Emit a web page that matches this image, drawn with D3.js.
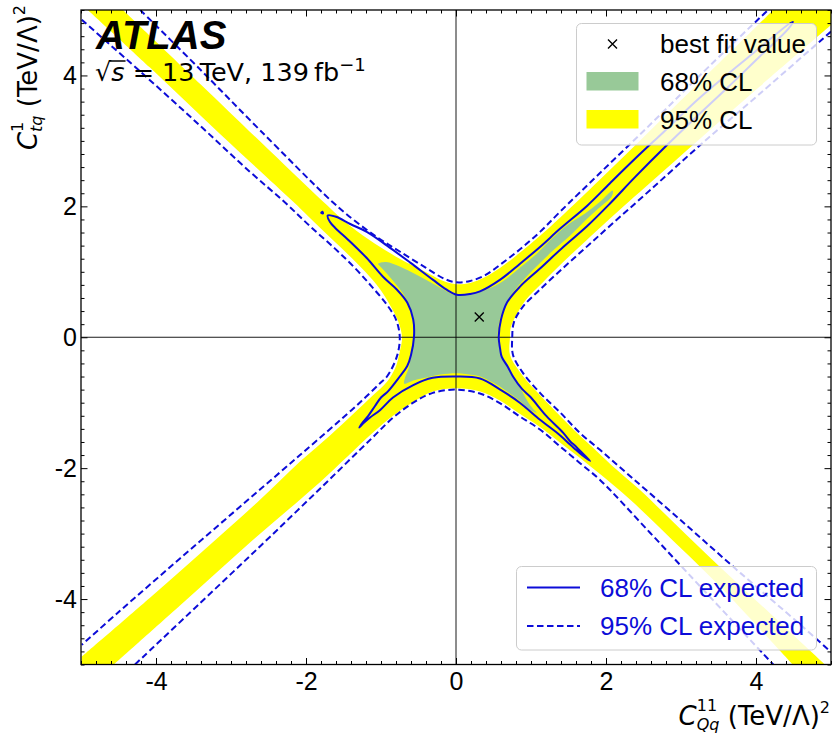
<!DOCTYPE html>
<html>
<head>
<meta charset="utf-8">
<script src="https://cdn.jsdelivr.net/npm/d3@7/dist/d3.min.js"></script>
<style>
  body { margin: 0; background: #ffffff; }
  svg { display: block; }
</style>
</head>
<body>
<svg id="chart" width="832" height="734"></svg>
<script>
// ---- axis settings ----
const xDomain = [-5, 5];
const yDomain = [-5, 5];
const majorTicks = [-4, -2, 0, 2, 4];
const tickLabels = ["-4", "-2", "0", "2", "4"];

// ---- best-fit point (C_Qq^11, C_tq^1) ----
const bestFit = [0.31, 0.31];

// ---- observed 95% CL region: the four edges of the cross ----
const obs95Top = [[-4.44,5.00],[-3.41,3.87],[-2.61,2.99],[-1.77,2.07],[-1.41,1.70],[-1.08,1.43],[-0.75,1.20],[-0.41,1.00],[-0.15,0.85],[0,0.81],[0.19,0.83],[0.39,0.92],[0.59,1.06],[0.85,1.29],[1.12,1.55],[1.39,1.83],[1.92,2.41],[2.59,3.16],[3.25,3.90],[4.23,5.00]];
const obs95Right = [[5.00,4.77],[4.05,3.83],[3.25,3.03],[2.59,2.36],[2.05,1.81],[1.73,1.47],[1.43,1.15],[1.15,0.83],[0.93,0.57],[0.80,0.33],[0.73,0.15],[0.72,0],[0.72,-0.27],[0.84,-0.51],[1.05,-0.80],[1.31,-1.11],[1.56,-1.40],[1.81,-1.67],[2.07,-1.95],[2.45,-2.33],[2.92,-2.85],[3.52,-3.51],[4.19,-4.22],[4.92,-5.00]];
const obs95Bottom = [[-4.56,-5.00],[-3.68,-4.10],[-2.75,-3.14],[-1.81,-2.21],[-1.12,-1.47],[-0.84,-1.20],[-0.57,-0.99],[-0.31,-0.83],[0,-0.78],[0.32,-0.83],[0.59,-0.97],[0.85,-1.17],[1.12,-1.37],[1.39,-1.61],[1.65,-1.84],[1.92,-2.09],[2.32,-2.48],[2.85,-3.06],[3.52,-3.81],[4.49,-5.00]];
const obs95Left = [[-4.99,-4.88],[-4.08,-3.98],[-3.25,-3.14],[-2.61,-2.48],[-2.08,-1.90],[-1.68,-1.50],[-1.35,-1.15],[-1.11,-0.89],[-0.92,-0.68],[-0.81,-0.47],[-0.75,-0.22],[-0.72,0],[-0.77,0.24],[-0.87,0.47],[-1.01,0.73],[-1.21,1.00],[-1.48,1.31],[-1.81,1.67],[-2.17,2.07],[-3.15,3.11],[-4.08,4.12],[-4.91,5.00]];

// ---- observed 68% CL region (closed) ----
const obs68 = [[-1.04,1.12],[-0.93,1.15],[-0.75,1.08],[-0.52,0.95],[-0.31,0.82],[-0.12,0.70],[0,0.64],[0.19,0.66],[0.41,0.73],[0.63,0.86],[0.85,1.06],[1.08,1.28],[1.29,1.52],[1.49,1.72],[1.72,1.89],[1.92,2.07],[2.09,2.24],[2.08,2.16],[1.89,1.96],[1.72,1.78],[1.52,1.55],[1.29,1.32],[1.08,1.09],[0.88,0.85],[0.72,0.62],[0.61,0.37],[0.56,0.11],[0.56,-0.04],[0.61,-0.27],[0.68,-0.40],[0.77,-0.60],[0.87,-0.80],[0.96,-0.99],[1.04,-1.11],[1.08,-1.15],[0.99,-1.11],[0.85,-0.97],[0.68,-0.83],[0.55,-0.73],[0.32,-0.60],[0.13,-0.56],[0,-0.55],[-0.21,-0.57],[-0.41,-0.62],[-0.57,-0.66],[-0.69,-0.71],[-0.68,-0.62],[-0.63,-0.47],[-0.60,-0.28],[-0.56,-0.04],[-0.57,0.19],[-0.60,0.42],[-0.68,0.62],[-0.81,0.82],[-0.92,0.97],[-1.01,1.08]];

// ---- expected 68% CL contour (closed, solid) ----
const exp68 = [[-1.71,1.86],[-1.60,1.84],[-1.41,1.73],[-1.19,1.61],[-0.92,1.40],[-0.61,1.14],[-0.31,0.88],[-0.13,0.73],[0.01,0.65],[0.19,0.66],[0.32,0.70],[0.59,0.88],[0.85,1.12],[1.12,1.38],[1.39,1.66],[1.75,2.01],[2.05,2.35],[2.39,2.73],[2.79,3.16],[3.25,3.66],[3.92,4.30],[4.49,4.82],[4.43,4.71],[4.05,4.29],[3.59,3.78],[3.19,3.35],[2.79,2.91],[2.39,2.45],[2.05,2.04],[1.75,1.70],[1.43,1.38],[1.12,1.05],[0.85,0.77],[0.68,0.53],[0.60,0.27],[0.57,0.01],[0.59,-0.19],[0.61,-0.30],[0.69,-0.45],[0.76,-0.60],[0.88,-0.79],[0.99,-0.91],[1.21,-1.21],[1.43,-1.46],[1.53,-1.60],[1.57,-1.64],[1.65,-1.73],[1.79,-1.89],[1.68,-1.80],[1.60,-1.72],[1.52,-1.64],[1.39,-1.50],[1.12,-1.26],[0.85,-1.00],[0.59,-0.80],[0.32,-0.63],[0.01,-0.60],[-0.31,-0.62],[-0.57,-0.73],[-0.84,-0.92],[-1.01,-1.11],[-1.15,-1.23],[-1.24,-1.32],[-1.29,-1.38],[-1.25,-1.31],[-1.17,-1.20],[-1.08,-1.05],[-1.00,-0.92],[-0.91,-0.83],[-0.75,-0.60],[-0.65,-0.44],[-0.60,-0.27],[-0.56,0.01],[-0.57,0.27],[-0.65,0.53],[-0.79,0.73],[-0.97,0.92],[-1.19,1.21],[-1.41,1.46],[-1.61,1.67],[-1.68,1.76]];
const exp68Island = [[-1.80,1.90],[-1.78,1.92],[-1.77,1.89]];

// ---- expected 95% CL contour: four dashed branches ----
const exp95Top = [[-4.21,5.00],[-3.41,4.09],[-2.61,3.16],[-1.65,2.07],[-1.35,1.78],[-1.04,1.52],[-0.75,1.31],[-0.40,1.06],[-0.15,0.89],[0,0.84],[0.19,0.86],[0.39,0.95],[0.59,1.11],[0.85,1.34],[1.12,1.61],[1.39,1.92],[1.92,2.51],[2.59,3.25],[3.25,4.00],[4.16,5.00]];
const exp95Right = [[5.00,4.67],[4.05,3.72],[3.25,2.93],[2.59,2.25],[2.05,1.70],[1.73,1.37],[1.43,1.06],[1.12,0.73],[0.88,0.45],[0.77,0.22],[0.75,0],[0.76,-0.27],[0.89,-0.54],[1.12,-0.85],[1.39,-1.15],[1.65,-1.46],[1.92,-1.72],[2.19,-1.99],[2.99,-2.79],[3.79,-3.60],[4.59,-4.39],[5.00,-4.81]];
const exp95Bottom = [[-4.28,-5.00],[-3.41,-4.06],[-2.59,-3.17],[-1.81,-2.31],[-1.12,-1.54],[-0.84,-1.23],[-0.57,-1.00],[-0.31,-0.85],[0,-0.80],[0.32,-0.86],[0.59,-1.01],[0.85,-1.21],[1.12,-1.41],[1.39,-1.67],[1.65,-1.92],[1.92,-2.18],[2.59,-2.99],[3.25,-3.80],[4.23,-5.00]];
const exp95Left = [[-4.99,4.85],[-4.21,4.06],[-3.41,3.23],[-2.75,2.53],[-2.29,2.07],[-1.95,1.70],[-1.61,1.35],[-1.35,1.06],[-1.12,0.77],[-0.93,0.51],[-0.80,0.27],[-0.75,0],[-0.79,-0.30],[-0.92,-0.60],[-1.01,-0.70],[-1.20,-0.91],[-1.39,-1.11],[-2.08,-1.80],[-2.88,-2.59],[-3.68,-3.38],[-4.48,-4.18],[-4.99,-4.70]];

// ---- styling ----
const YELLOW = "#ffff00";
const GREEN = "#98c998";
const BLUE = "#0c0cd8";
const SANS = "'Liberation Sans', Arial, Helvetica, sans-serif";
const MATH = "'DejaVu Sans', sans-serif";

const plot = { left: 81, right: 831, top: 10, bottom: 664.5 };

const svg = d3.select("#chart");
const x = d3.scaleLinear().domain(xDomain).range([plot.left, plot.right]);
const y = d3.scaleLinear().domain(yDomain).range([plot.bottom, plot.top]);

const smooth = d3.line().x(d => x(d[0])).y(d => y(d[1])).curve(d3.curveCatmullRom.alpha(0.5));
const smoothClosed = d3.line().x(d => x(d[0])).y(d => y(d[1])).curve(d3.curveCatmullRomClosed.alpha(0.5));
const cont = s => s.replace(/^M/, "L");

svg.append("defs").append("clipPath").attr("id", "plotClip")
  .append("rect")
  .attr("x", plot.left).attr("y", plot.top)
  .attr("width", plot.right - plot.left).attr("height", plot.bottom - plot.top);

const g = svg.append("g").attr("clip-path", "url(#plotClip)");

// observed 95% band: stitch the four edges together along the frame corners
const yellowPath =
  smooth(obs95Top) +
  "L" + x(xDomain[1]) + "," + y(yDomain[1]) +
  cont(smooth(obs95Right)) +
  cont(smooth(obs95Bottom.slice().reverse())) +
  "L" + x(xDomain[0]) + "," + y(yDomain[0]) +
  cont(smooth(obs95Left)) + "Z";

g.append("path").attr("d", yellowPath).attr("fill", YELLOW).attr("stroke", "none");
g.append("path").attr("d", smoothClosed(obs68)).attr("fill", GREEN).attr("stroke", "none");

// zero lines
g.append("line").attr("x1", x(0)).attr("x2", x(0)).attr("y1", plot.top).attr("y2", plot.bottom)
  .attr("stroke", "#000").attr("stroke-width", 0.9);
g.append("line").attr("x1", plot.left).attr("x2", plot.right).attr("y1", y(0)).attr("y2", y(0))
  .attr("stroke", "#000").attr("stroke-width", 0.9);

// expected 95% (dashed)
[exp95Top, exp95Right, exp95Bottom, exp95Left].forEach(c => {
  g.append("path").attr("d", smooth(c)).attr("fill", "none")
    .attr("stroke", BLUE).attr("stroke-width", 2).attr("stroke-dasharray", "6.5,3.5");
});

// expected 68% (solid)
g.append("path").attr("d", smoothClosed(exp68)).attr("fill", "none")
  .attr("stroke", BLUE).attr("stroke-width", 2).attr("stroke-linejoin", "round");
g.append("path").attr("d", smoothClosed(exp68Island)).attr("fill", "none")
  .attr("stroke", BLUE).attr("stroke-width", 1.6);

// best-fit marker
function cross(sel, cx, cy, r) {
  sel.append("path")
    .attr("d", `M${cx - r},${cy - r}L${cx + r},${cy + r}M${cx - r},${cy + r}L${cx + r},${cy - r}`)
    .attr("stroke", "#000").attr("stroke-width", 1.4).attr("fill", "none");
}
cross(g, x(bestFit[0]), y(bestFit[1]), 4.5);

// ---- axes: ticks pointing inward on all four sides ----
const minorTicks = x.ticks(50).filter(v => !majorTicks.some(m => Math.abs(m - v) < 1e-9));
const fmt = v => tickLabels[majorTicks.indexOf(v)];

function styleAxis(sel, withLabels) {
  sel.select(".domain").remove();
  sel.selectAll(".tick line").attr("stroke", "#000").attr("stroke-width", 1);
  sel.selectAll("text").attr("font-family", SANS).attr("font-size", 25).attr("fill", "#000");
  if (!withLabels) sel.selectAll("text").remove();
}

const axes = [
  { gen: d3.axisBottom(x), t: `translate(0,${plot.bottom})`, labels: true, pad: 8 },
  { gen: d3.axisTop(x), t: `translate(0,${plot.top})`, labels: false, pad: 4 },
  { gen: d3.axisLeft(y), t: `translate(${plot.left},0)`, labels: true, pad: 4 },
  { gen: d3.axisRight(y), t: `translate(${plot.right},0)`, labels: false, pad: 4 }
];
axes.forEach(a => {
  const major = svg.append("g").attr("transform", a.t)
    .call(a.gen.tickValues(majorTicks).tickFormat(fmt).tickSizeInner(-6.5).tickSizeOuter(0).tickPadding(a.pad));
  styleAxis(major, a.labels);
  const minor = svg.append("g").attr("transform", a.t)
    .call(a.gen.tickValues(minorTicks).tickFormat("").tickSizeInner(-3.5).tickSizeOuter(0));
  styleAxis(minor, false);
});

// frame
svg.append("rect")
  .attr("x", plot.left).attr("y", plot.top)
  .attr("width", plot.right - plot.left).attr("height", plot.bottom - plot.top)
  .attr("fill", "none").attr("stroke", "#000").attr("stroke-width", 1.3);

// ---- axis titles ----
const xt = svg.append("text")
  .attr("x", 830).attr("y", 725).attr("text-anchor", "end")
  .attr("font-family", MATH).attr("font-size", 26).attr("fill", "#000");
xt.append("tspan").attr("font-style", "italic").text("C");
xt.append("tspan").attr("font-size", 16).attr("dy", -14).text("11");
xt.append("tspan").attr("font-size", 16).attr("font-style", "italic").attr("dx", -20.4).attr("dy", 19).text("Qq");
xt.append("tspan").attr("dy", -5).text("\u00a0(TeV/\u039b)");
xt.append("tspan").attr("font-size", 16).attr("dy", -12).text("2");

const yt = svg.append("text")
  .attr("transform", "translate(37,5) rotate(-90)").attr("text-anchor", "end")
  .attr("font-family", MATH).attr("font-size", 26).attr("fill", "#000");
yt.append("tspan").attr("font-style", "italic").text("C");
yt.append("tspan").attr("font-size", 16).attr("dy", -14).text("1");
yt.append("tspan").attr("font-size", 16).attr("font-style", "italic").attr("dx", -10.2).attr("dy", 19).text("tq");
yt.append("tspan").attr("dy", -5).text("\u00a0(TeV/\u039b)");
yt.append("tspan").attr("font-size", 16).attr("dy", -12).text("2");

// ---- experiment label ----
svg.append("text")
  .attr("x", 96).attr("y", 48.5)
  .attr("font-family", SANS).attr("font-size", 40).attr("font-weight", "bold").attr("font-style", "italic")
  .attr("fill", "#000").text("ATLAS");

const lumi = svg.append("text")
  .attr("x", 95).attr("y", 81)
  .attr("font-family", MATH).attr("font-size", 25.5).attr("fill", "#000");
lumi.append("tspan").text("\u221a");
lumi.append("tspan").attr("font-style", "italic").text("s");
lumi.append("tspan").text(" = 13\u2009TeV, 139\u2009fb");
lumi.append("tspan").attr("font-size", 18).attr("dy", -10).text("\u22121");
{
  const node = lumi.node();
  const root = node.getExtentOfChar(0);
  const sGlyph = node.getExtentOfChar(1);
  svg.append("line")
    .attr("x1", root.x + root.width - 2).attr("x2", sGlyph.x + sGlyph.width + 1)
    .attr("y1", 61).attr("y2", 61)
    .attr("stroke", "#000").attr("stroke-width", 1.5);
}

// ---- legend: observed ----
const leg1 = svg.append("g");
leg1.append("rect").attr("x", 576.5).attr("y", 23.5).attr("width", 240).attr("height", 121.5)
  .attr("rx", 5).attr("fill", "#ffffff").attr("fill-opacity", 0.8)
  .attr("stroke", "#cccccc").attr("stroke-width", 1);
cross(leg1, 612.5, 44, 4.5);
leg1.append("rect").attr("x", 586.5).attr("y", 72).attr("width", 52).attr("height", 18.5).attr("fill", GREEN);
leg1.append("rect").attr("x", 586.5).attr("y", 110).attr("width", 52).attr("height", 18.5).attr("fill", YELLOW);
[["best fit value", 53], ["68% CL", 90.5], ["95% CL", 128.5]].forEach(([t, by]) => {
  leg1.append("text").attr("x", 660).attr("y", by)
    .attr("font-family", SANS).attr("font-size", 26).attr("fill", "#000").text(t);
});

// ---- legend: expected ----
const leg2 = svg.append("g");
leg2.append("rect").attr("x", 516.5).attr("y", 566.5).attr("width", 300).attr("height", 83.5)
  .attr("rx", 5).attr("fill", "#ffffff").attr("fill-opacity", 0.8)
  .attr("stroke", "#cccccc").attr("stroke-width", 1);
leg2.append("line").attr("x1", 527).attr("x2", 580).attr("y1", 587.5).attr("y2", 587.5)
  .attr("stroke", BLUE).attr("stroke-width", 2);
leg2.append("line").attr("x1", 527).attr("x2", 580).attr("y1", 626).attr("y2", 626)
  .attr("stroke", BLUE).attr("stroke-width", 2).attr("stroke-dasharray", "6.5,3.5");
[["68% CL expected", 596.5], ["95% CL expected", 635]].forEach(([t, by]) => {
  leg2.append("text").attr("x", 600).attr("y", by)
    .attr("font-family", SANS).attr("font-size", 26).attr("fill", BLUE).text(t);
});
</script>
</body>
</html>
